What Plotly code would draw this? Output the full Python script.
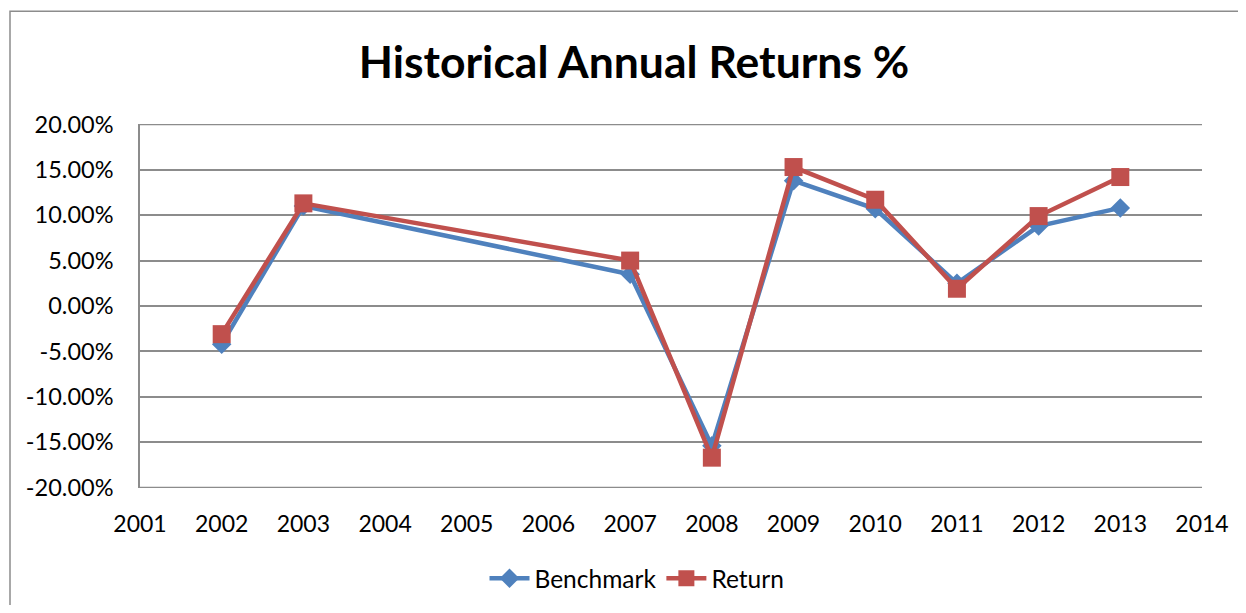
import plotly.graph_objects as go

years = [2002, 2003, 2007, 2008, 2009, 2010, 2011, 2012, 2013]
benchmark = [-4.2, 11.0, 3.5, -15.4, 13.8, 10.7, 2.5, 8.8, 10.8]
returns = [-3.1, 11.3, 5.0, -16.7, 15.3, 11.7, 1.9, 9.9, 14.2]

x_ticks = list(range(2001, 2015))
y_ticks = [20, 15, 10, 5, 0, -5, -10, -15, -20]
y_tick_labels = ["20.00%", "15.00%", "10.00%", "5.00%", "0.00%",
                 "-5.00%", "-10.00%", "-15.00%", "-20.00%"]

BLUE = "#4F81BD"
RED = "#C0504D"
GRID = "#8C8C8C"
FONT = "Lato, 'Open Sans', sans-serif"

fig = go.Figure()
fig.add_trace(go.Scatter(
    x=years, y=benchmark, name="Benchmark", mode="lines+markers",
    line=dict(color=BLUE, width=4.5),
    marker=dict(symbol="diamond", size=15, color=BLUE),
))
fig.add_trace(go.Scatter(
    x=years, y=returns, name="Return", mode="lines+markers",
    line=dict(color=RED, width=4.5),
    marker=dict(symbol="square", size=18, color=RED),
))

# page body has an 8px margin; work in page pixels and shift
OFF = 8
W, H = 1230, 597
L = 140 - OFF
T = 124 - OFF
R = W - (1202 - OFF)
B = H - (488.5 - OFF)
pw, ph = W - L - R, H - T - B

def px(x):
    return (x - OFF - L) / pw

def py(y):
    return (H - B - (y - OFF)) / ph

edge_lines = [dict(type="line", xref="paper", yref="y", x0=0, x1=1,
                   y0=v, y1=v, line=dict(color=GRID, width=1.6), layer="below")
              for v in (y_ticks[0], y_ticks[-1])]

fig.update_layout(
    width=W, height=H,
    margin=dict(l=L, r=R, t=T, b=B, pad=0, autoexpand=False),
    paper_bgcolor="white", plot_bgcolor="white",
    font=dict(family=FONT, size=23, color="black"),
    title=dict(text="<b>Historical Annual Returns %</b>",
               x=px(634), xref="paper", xanchor="center",
               y=1 - (62 - OFF) / H, yref="container", yanchor="middle",
               font=dict(family=FONT, size=44.5, color="black")),
    showlegend=True,
    legend=dict(orientation="h", x=px(637), xanchor="center",
                y=py(579), yanchor="middle",
                font=dict(family=FONT, size=24.5, color="black"),
                itemwidth=40, tracegroupgap=0),
    xaxis=dict(range=[2001, 2014], tickvals=x_ticks,
               ticktext=[str(v) for v in x_ticks],
               showgrid=False, zeroline=False, showline=False,
               ticks="", ticklabelstandoff=20,
               tickfont=dict(family=FONT, size=23, color="black")),
    yaxis=dict(range=[-20.04, 20.04], tickvals=y_ticks, ticktext=y_tick_labels,
               showgrid=True, gridcolor=GRID, gridwidth=1.6,
               zeroline=False, showline=True, linecolor=GRID, linewidth=1.6,
               ticks="", ticklabelstandoff=20,
               tickfont=dict(family=FONT, size=23.5, color="black")),
    shapes=[dict(type="rect", xref="paper", yref="paper",
                 x0=px(10), x1=px(1280), y0=py(660), y1=py(11),
                 line=dict(color="#8C8C8C", width=1.5), layer="below")]
           + edge_lines,
)

fig.write_html("out.html")
